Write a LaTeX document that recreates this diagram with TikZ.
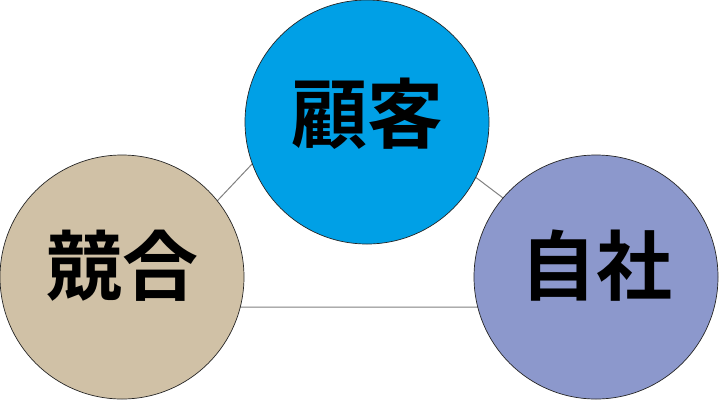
\documentclass[tikz,border=0pt]{standalone}
\usepackage{fontspec}
\usepackage{tikz}
\newfontfamily\jpfont{Noto Sans CJK JP Bold}

\definecolor{kokyakublue}{RGB}{0,160,230}
\definecolor{kyougoutan}{RGB}{208,193,166}
\definecolor{jishaviolet}{RGB}{140,152,204}

\begin{document}
\begin{tikzpicture}[x=1pt, y=-1pt,
    ball/.style={circle, draw=black!85, line width=0.7pt, minimum size=244pt, inner sep=0pt},
    word/.style={font=\jpfont\fontsize{76}{76}\selectfont, inner sep=0pt},
    link/.style={draw=black!50, line width=1pt}]
    \useasboundingbox (0,0) rectangle (719,400);

    % the triangle behind
    \coordinate (tl) at (117,307);
    \coordinate (tt) at (338,73);
    \coordinate (tr) at (647,307);
    \draw[link] (tl) -- (tt) -- (tr) -- cycle;

    % the three circles
    \node[ball, fill=kokyakublue] (kokyaku) at (367,122) {};
    \node[ball, fill=kyougoutan] (kyougou) at (122,277) {};
    \node[ball, fill=jishaviolet] (jisha) at (596,277) {};

    \node[word] at ([yshift=8pt]kokyaku.center) {顧客};
    \node[word] at ([yshift=11pt]kyougou.center) {競合};
    \node[word] at ([yshift=11pt]jisha.center) {自社};
\end{tikzpicture}
\end{document}
